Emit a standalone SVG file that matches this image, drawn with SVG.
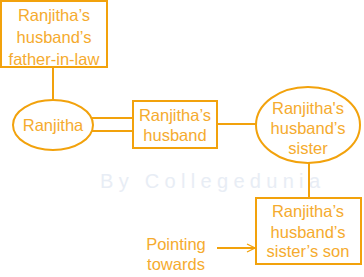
<svg xmlns="http://www.w3.org/2000/svg" width="364" height="277" viewBox="0 0 364 277">
<defs>
<style>
.shape{fill:none;stroke:#F2A20C;stroke-width:2}
.line{fill:none;stroke:#F2A20C;stroke-width:2}
.t{font-family:"Liberation Sans",Arial,sans-serif;font-size:16.5px;fill:#F5AB2E;text-anchor:middle}
.wm{font-family:"Liberation Sans",Arial,sans-serif;fill:#E8EDF5}
</style>
<marker id="arr" markerWidth="10" markerHeight="10" refX="9" refY="5" orient="auto" markerUnits="userSpaceOnUse">
<path d="M1,1 L9,5 L1,9" fill="none" stroke="#F2A20C" stroke-width="1.3"/>
</marker>
</defs>
<rect width="364" height="277" fill="#fff"/>
<g id="watermark">
<text class="wm" x="100" y="188" font-size="20" textLength="220">By Collegedunia</text>
</g>
<g id="connectors">
<line class="line" x1="53" y1="67" x2="53" y2="100"/>
<line class="line" x1="92" y1="118" x2="133" y2="118"/>
<line class="line" x1="92" y1="131" x2="133" y2="131"/>
<line class="line" x1="217" y1="124" x2="256" y2="124"/>
<line class="line" x1="309" y1="163" x2="309" y2="198"/>
<line class="line" x1="217" y1="248" x2="255" y2="248" marker-end="url(#arr)"/>
</g>
<g id="father-in-law">
<rect class="shape" x="1" y="1" width="106" height="66"/>
<text class="t" x="54" y="21">Ranjitha’s</text>
<text class="t" x="54" y="43">husband’s</text>
<text class="t" x="54" y="65">father-in-law</text>
</g>
<g id="ranjitha">
<ellipse class="shape" cx="53" cy="125" rx="40" ry="25"/>
<text class="t" x="53" y="131">Ranjitha</text>
</g>
<g id="husband">
<rect class="shape" x="133" y="101" width="84" height="47"/>
<text class="t" x="175" y="121">Ranjitha’s</text>
<text class="t" x="175" y="141">husband</text>
</g>
<g id="sister">
<ellipse class="shape" cx="308" cy="125" rx="52" ry="38"/>
<text class="t" x="308" y="114">Ranjitha's</text>
<text class="t" x="308" y="134">husband’s</text>
<text class="t" x="308" y="154">sister</text>
</g>
<g id="son">
<rect class="shape" x="256" y="198" width="105" height="66"/>
<text class="t" x="308" y="217">Ranjitha’s</text>
<text class="t" x="308" y="238">husband’s</text>
<text class="t" x="308" y="257">sister’s son</text>
</g>
<g id="legend">
<text class="t" x="176" y="250">Pointing</text>
<text class="t" x="176" y="270">towards</text>
</g>
</svg>
